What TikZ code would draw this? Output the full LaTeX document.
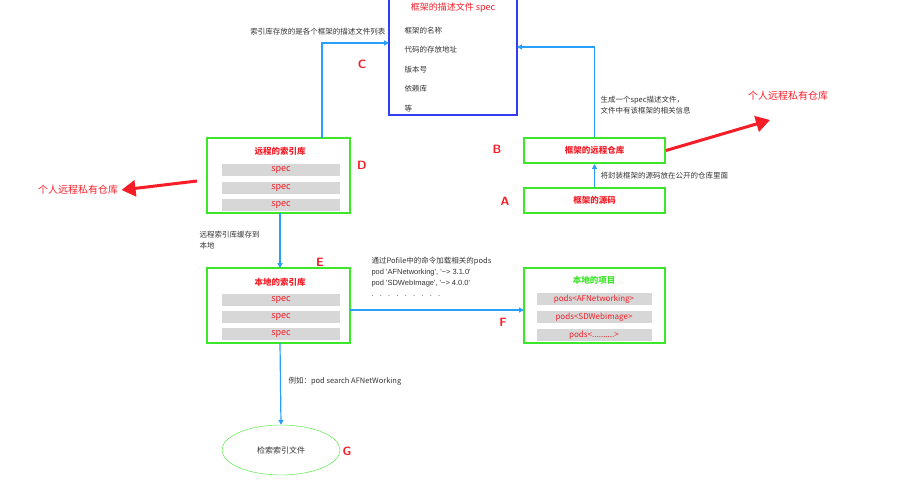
\documentclass[tikz,border=0pt]{standalone}
\usepackage{fontspec}
\setmainfont{Noto Sans CJK SC}
\newfontfamily\latin{Liberation Sans}
\usetikzlibrary{arrows.meta,shapes.geometric}
\definecolor{boxgreen}{RGB}{60,230,40}
\definecolor{linkblue}{RGB}{40,160,250}
\definecolor{specblue}{RGB}{50,60,240}
\definecolor{barfill}{RGB}{215,215,215}
\definecolor{txtred}{RGB}{245,30,40}
\begin{document}
\begin{tikzpicture}[x=1pt,y=-1pt,font=\fontsize{8}{10}\selectfont,
  green box/.style={draw=boxgreen,line width=2pt},
  bar/.style={fill=barfill,minimum width=118pt,minimum height=12pt,inner sep=0pt,text=txtred,font=\fontsize{9}{10}\selectfont},
  title/.style={text=txtred,font=\fontsize{8.5}{10}\selectfont\bfseries},
  letter/.style={text=txtred,font=\fontsize{12}{12}\selectfont\bfseries\sffamily},
  link/.style={draw=linkblue,line width=1.2pt,-{Triangle[length=5pt,width=5pt]}},
  big arrow/.style={draw=txtred,line width=3pt,-{Triangle[length=14pt,width=16pt]}},
  note/.style={text=black!80,align=left,font=\fontsize{7.5}{11}\selectfont}]
\useasboundingbox (0,0) rectangle (903,500);
% spec box
\draw[specblue,line width=1.5pt] (389,-2) rectangle (517,115);
\node[text=txtred,font=\fontsize{9}{10}\selectfont] (spec) at (453,8) {框架的描述文件 spec};
\foreach \t [count=\i] in {框架的名称,代码的存放地址,版本号,依赖库,等}
  \node[anchor=west,note] (s\i) at (401,11+19.5*\i) {\t};
\coordinate (specL) at (389,43);
\coordinate (specR) at (517,47);
% remote index
\draw[green box] (207,138) rectangle (350,213);
\node[title] (dt) at (280,151) {远程的索引库};
\foreach \y [count=\i] in {170,188,205} \node[bar] (d\i) at (281,\y) {spec};
\coordinate (dtop) at (322,138);
\coordinate (dbot) at (280,213);
% local index
\draw[green box] (207,268) rectangle (350,343);
\node[title] (et) at (280,282) {本地的索引库};
\foreach \y [count=\i] in {300,317,334} \node[bar] (e\i) at (281,\y) {spec};
\coordinate (etop) at (280,268);
\coordinate (eright) at (350,310);
\coordinate (ebot) at (280,343);
% remote repo and source
\node[green box,minimum width=141pt,minimum height=25pt,title] (B) at (594.5,150.5) {框架的远程仓库};
\node[green box,minimum width=141pt,minimum height=25pt,title] (A) at (594.5,200.5) {框架的源码};
% local project
\draw[green box] (524,268) rectangle (665,343);
\node[text=boxgreen,font=\fontsize{8.5}{10}\selectfont\bfseries] (pt) at (594,280) {本地的项目};
\foreach \y/\t [count=\i] in {299/{pods<AFNetworking>},317/{pods<SDWebimage>},335/{pods<..........>}}
  \node[bar,minimum width=115pt,font=\fontsize{8}{10}\selectfont] (p\i) at (594,\y) {\t};
\coordinate (pleft) at (524,310);
% search node
\node[draw=boxgreen,ellipse,minimum width=118pt,minimum height=50pt,note,font=\fontsize{8}{10}\selectfont] (G) at (281,450) {检索索引文件};
% letters
\node[letter] (lc) at (362,64) {C};
\node[letter] (ld) at (362,165) {D};
\node[letter] (lb) at (497,149) {B};
\node[letter] (la) at (505,201) {A};
\node[letter] (le) at (320,262) {E};
\node[letter] (lf) at (503,322) {F};
\node[letter] (lg) at (347,451) {G};
% private repos
\coordinate (r1) at (197,181);
\node[text=txtred,font=\fontsize{10}{12}\selectfont] (priv1) at (78,190) {个人远程私有仓库};
\draw[big arrow] (r1) -- (priv1.east);
\node[text=txtred,font=\fontsize{10}{12}\selectfont] (priv2) at (788,96) {个人远程私有仓库};
\draw[big arrow] (B.east) -- (770,120);
% links
\draw[link] (dtop) |- (specL);
\node[note,anchor=east] (nc) at (389,32) {索引库存放的是各个框架的描述文件列表};
\draw[link] (B.north) |- (specR);
\node[note,anchor=west] (nb) at (597,105) {生成一个spec描述文件，\\文件中有该框架的相关信息};
\draw[link] (A.north) -- (B.south);
\node[note,anchor=west] (na) at (597,176) {将封装框架的源码放在公开的仓库里面};
\draw[link] (dbot) -- (etop);
\node[note,anchor=west] (nd) at (196,240) {远程索引库缓存到\\本地};
\draw[link] (eright) -- (pleft);
\node[note,anchor=north west] (ne) at (368,254) {通过Pofile中的命令加载相关的pods\\{\latin pod 'AFNetworking', '\textasciitilde> 3.1.0'}\\{\latin pod 'SDWebImage', '\textasciitilde> 4.0.0'}\\{\latin .\ \ \ .\ \ \ .\ \ \ .\ \ \ .\ \ \ .\ \ \ .\ \ \ .\ \ \ .}};
\draw[link] (ebot) -- (G.north);
\node[note,anchor=west] (ng) at (285,381) {例如：pod search AFNetWorking};
\end{tikzpicture}
\end{document}
